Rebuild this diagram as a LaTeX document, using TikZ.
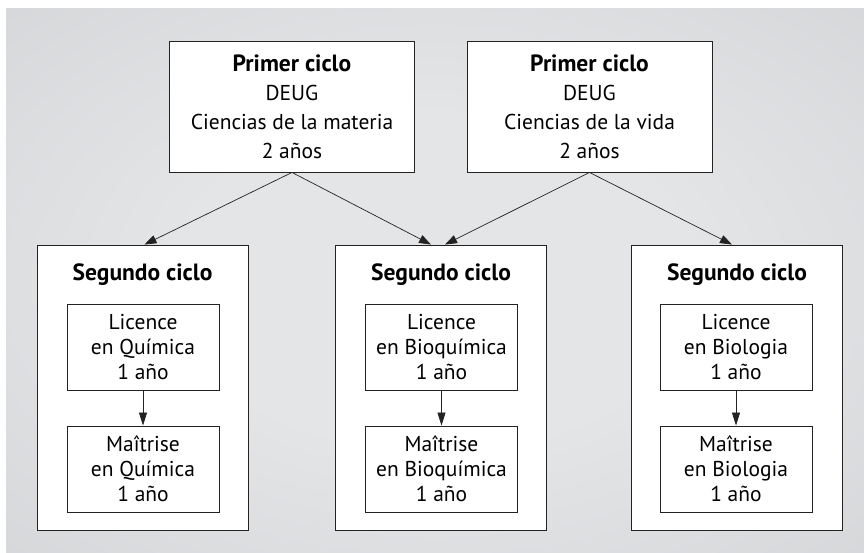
\documentclass[tikz,border=0pt]{standalone}
\usepackage{fontspec}
\setmainfont{PT Sans}
\usetikzlibrary{arrows.meta}
\definecolor{hellgrau}{RGB}{228,229,231}
\definecolor{dunkelgrau}{RGB}{192,193,196}
\definecolor{linie}{RGB}{35,35,35}
\pgfdeclareradialshading{hgshade}{\pgfpoint{0bp}{0bp}}{color(0bp)=(hellgrau); color(15bp)=(hellgrau); color(71bp)=(dunkelgrau)}

\begin{document}
\begin{tikzpicture}[
        x=1pt,
        y=-1pt,
        kasten/.style={draw=linie, line width=0.9pt, fill=white, inner sep=0pt, align=center},
        obenkasten/.style={kasten, minimum width=245pt, minimum height=131pt, font=\fontsize{21.5}{29}\selectfont},
        zykluskasten/.style={kasten, minimum width=211pt, minimum height=285pt},
        studienkasten/.style={kasten, minimum width=152pt, minimum height=86pt, font=\fontsize{21.5}{25}\selectfont},
        titel/.style={anchor=base, font=\fontsize{23.5}{28}\selectfont\bfseries},
        pfeil/.style={draw=linie, line width=0.7pt, -{Triangle[length=12pt,width=8.5pt]}}]

\useasboundingbox (0,0) rectangle (864,553);
%Hintergrund
\shade[shading=hgshade] (6,9) rectangle (864,553);

%Erster Zyklus
\node[obenkasten] (materia) at (292,106.5) {{\fontsize{23.5}{29}\selectfont\bfseries Primer ciclo}\\DEUG\\Ciencias de la materia\\2 años};
\node[obenkasten] (vida) at (589.5,106.5) {{\fontsize{23.5}{29}\selectfont\bfseries Primer ciclo}\\DEUG\\Ciencias de la vida\\2 años};

%Zweiter Zyklus
\node[zykluskasten] (quimica) at (142.5,387.5) {};
\node[zykluskasten] (bioquimica) at (441,387.5) {};
\node[zykluskasten] (biologia) at (737,387.5) {};

\node[titel] (tquimica) at (142.5,280) {Segundo ciclo};
\node[titel] (tbioquimica) at (441,280) {Segundo ciclo};
\node[titel] (tbiologia) at (737,280) {Segundo ciclo};

%Licence
\node[studienkasten] (licq) at (143,347) {Licence\\en Química\\1 año};
\node[studienkasten] (licbq) at (441.5,347) {Licence\\en Bioquímica\\1 año};
\node[studienkasten] (licb) at (736,347) {Licence\\en Biologia\\1 año};

%Maitrise
\node[studienkasten] (maiq) at (143,469) {Maîtrise\\en Química\\1 año};
\node[studienkasten] (maibq) at (441.5,469) {Maîtrise\\en Bioquímica\\1 año};
\node[studienkasten] (maib) at (736,469) {Maîtrise\\en Biologia\\1 año};

%Pfeile
\draw[pfeil] (materia.south) -- ([xshift=2pt]quimica.north);
\draw[pfeil] (materia.south) -- ([xshift=-10pt]bioquimica.north);
\draw[pfeil] (vida.south) -- ([xshift=4pt]bioquimica.north);
\draw[pfeil] (vida.south) -- ([xshift=-5pt]biologia.north);

\draw[pfeil, -{Triangle[length=13pt,width=8pt]}] (licq) -- (maiq);
\draw[pfeil, -{Triangle[length=13pt,width=8pt]}] (licbq) -- (maibq);
\draw[pfeil, -{Triangle[length=13pt,width=8pt]}] (licb) -- (maib);

\end{tikzpicture}
\end{document}
